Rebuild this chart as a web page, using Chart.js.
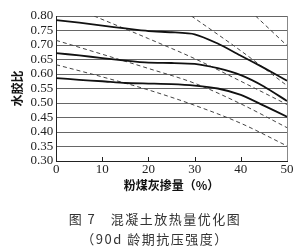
<!DOCTYPE html>
<html>
<head>
<meta charset="utf-8">
<script src="https://cdn.jsdelivr.net/npm/chart.js@4"></script>
<style>
  html, body { margin: 0; padding: 0; background: #fff; }
  #wrap { position: relative; width: 300px; height: 247px; }
  .cap {
    position: absolute; left: 5px; width: 300px; text-align: center;
    font-family: "Noto Sans CJK SC", sans-serif; font-size: 13px;
    color: #333; letter-spacing: 1.5px; white-space: pre;
  }
</style>
</head>
<body>
<div id="wrap">
  <canvas id="chart" width="300" height="247"></canvas>
  <div class="cap" style="top:209px">图 7　混凝土放热量优化图</div>
  <div class="cap" style="top:229px">（90d 龄期抗压强度）</div>
</div>
<script>
// Solid curves: optimum water-binder ratio vs fly ash content
const flyAsh = [0, 5, 10, 15, 20, 25, 30, 35, 40, 45, 50];
const solidTop = [0.786, 0.777, 0.767, 0.757, 0.748, 0.744, 0.737, 0.705, 0.663, 0.621, 0.577];
const solidMid = [0.672, 0.664, 0.655, 0.646, 0.639, 0.638, 0.635, 0.620, 0.596, 0.557, 0.507];
const solidLow = [0.586, 0.580, 0.575, 0.569, 0.567, 0.565, 0.560, 0.550, 0.528, 0.491, 0.453];

// Dashed iso-lines
const dash1X = [43.2, 50];
const dash1Y = [0.80, 0.698];
const dash2X = [29.3, 40, 50];
const dash2Y = [0.80, 0.68, 0.56];
const dash3X = [8.2, 20, 30, 40, 50];
const dash3Y = [0.80, 0.722, 0.653, 0.575, 0.495];
const dash4X = [0, 10, 20, 30, 40, 50];
const dash4Y = [0.716, 0.668, 0.619, 0.568, 0.497, 0.415];
const dash5X = [0, 10, 20, 30, 40, 50];
const dash5Y = [0.632, 0.590, 0.545, 0.492, 0.430, 0.352];

// Axis ticks
const yMin = 0.30, yMax = 0.80, yStep = 0.05;
const xMin = 0, xMax = 50, xStep = 10;

function pts(xs, ys) {
  return xs.map((x, i) => ({ x: x, y: ys[i] }));
}

function solid(xs, ys) {
  return {
    data: pts(xs, ys),
    borderColor: '#111',
    borderWidth: 1.8,
    pointRadius: 0,
    tension: 0.2,
    fill: false
  };
}

function dashed(xs, ys) {
  return {
    data: pts(xs, ys),
    borderColor: '#444',
    borderWidth: 1,
    borderDash: [4, 3],
    pointRadius: 0,
    cubicInterpolationMode: 'monotone',
    fill: false
  };
}

// small tick marks pointing into the plot on the x axis
const innerTicks = {
  id: 'innerTicks',
  afterDatasetsDraw(chart) {
    const sx = chart.scales.x;
    const ctx = chart.ctx;
    const bottom = chart.chartArea.bottom;
    ctx.save();
    ctx.strokeStyle = '#222';
    ctx.lineWidth = 1;
    sx.ticks.forEach(t => {
      if (t.value === xMin || t.value === xMax) return;
      const px = Math.round(sx.getPixelForValue(t.value)) + 0.5;
      ctx.beginPath();
      ctx.moveTo(px, bottom);
      ctx.lineTo(px, bottom - 4);
      ctx.stroke();
    });
    ctx.restore();
  }
};

const tickFont = { family: '"Liberation Serif", "Times New Roman", serif', size: 13 };
const cjkBold = { family: '"Noto Sans CJK SC", sans-serif', size: 12, weight: 'bold' };

new Chart(document.getElementById('chart').getContext('2d'), {
  type: 'line',
  data: {
    datasets: [
      solid(flyAsh, solidTop),
      solid(flyAsh, solidMid),
      solid(flyAsh, solidLow),
      dashed(dash1X, dash1Y),
      dashed(dash2X, dash2Y),
      dashed(dash3X, dash3Y),
      dashed(dash4X, dash4Y),
      dashed(dash5X, dash5Y)
    ]
  },
  options: {
    responsive: false,
    animation: false,
    layout: { padding: { left: 10, right: 13, top: 16, bottom: 54 } },
    plugins: {
      legend: { display: false },
      tooltip: { enabled: false }
    },
    scales: {
      x: {
        type: 'linear',
        min: xMin,
        max: xMax,
        ticks: { stepSize: xStep, font: tickFont, color: '#222', padding: 1, maxRotation: 0, autoSkip: false },
        grid: {
          drawTicks: false,
          color: c => (c.tick && c.tick.value === xMax) ? '#888' : 'rgba(0,0,0,0)'
        },
        border: { color: '#222', width: 1 },
        title: {
          display: true,
          text: '粉煤灰掺量（%）',
          font: cjkBold,
          color: '#111',
          padding: { top: 0, bottom: 0 }
        }
      },
      y: {
        min: yMin,
        max: yMax,
        ticks: {
          stepSize: yStep,
          autoSkip: false,
          font: tickFont,
          color: '#222',
          padding: 3,
          callback: v => Number(v).toFixed(2)
        },
        grid: { drawTicks: false, color: '#666', lineWidth: 1 },
        border: { color: '#222', width: 1 },
        title: {
          display: true,
          text: '水胶比',
          font: cjkBold,
          color: '#111',
          padding: { top: 0, bottom: 3 }
        }
      }
    }
  },
  plugins: [innerTicks]
});
</script>
</body>
</html>
